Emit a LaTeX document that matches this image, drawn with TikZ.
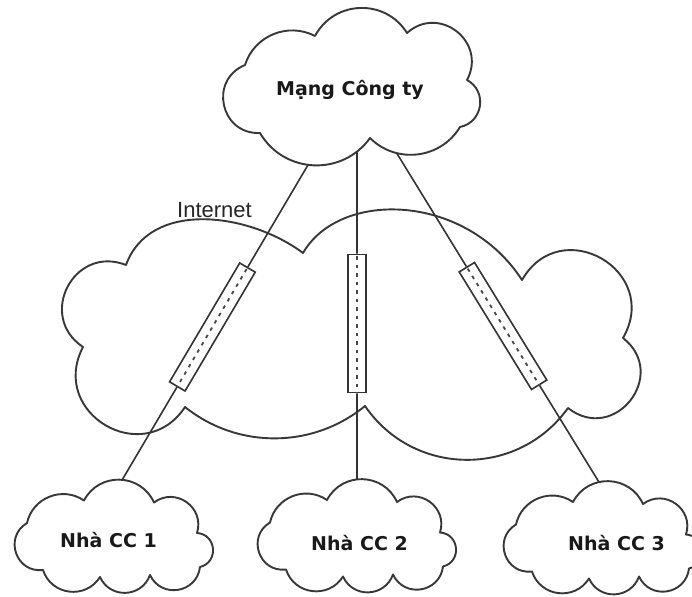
\documentclass[tikz,border=0pt]{standalone}
\usepackage{fontspec}
\setmainfont{DejaVu Sans}
\newfontfamily\labelfont{DejaVu Sans}
\newfontfamily\netfont{Liberation Sans}
\usetikzlibrary{calc,intersections}

% a round puff of a cloud: a circular arc that leaves the chord at #1 degrees
\tikzset{
  puff/.code={%
    \pgfmathsetmacro\pufflen{1.7029*tan(#1/2)/sin(#1)}%
    \edef\puffopts{bend left=#1,looseness=\pufflen}%
    \expandafter\tikzset\expandafter{\puffopts}},
  outline/.style={draw=black!78, line width=1.9pt, line join=round},
  link/.style={draw=black!80, line width=1.6pt},
  tunnel/.style={draw=black!80, line width=1.6pt, rectangle, fill=white,
    minimum width=138pt, minimum height=18pt, inner sep=0pt},
  vpn/.style={draw=black!72, line width=1.8pt, dash pattern=on 3.5pt off 5pt, dash phase=-2.5pt},
  cloudtext/.style={font=\labelfont\bfseries\fontsize{19}{22}\selectfont,
    text=black!90, inner sep=0pt},
  nettext/.style={font=\netfont\fontsize{22}{26}\selectfont, text=black!85, inner sep=0pt},
}

% outline of a small branch-office cloud, centred on the origin
\def\homeoutline{(-30,36) to[puff=64] (40,34) to[puff=72] (83,3.5)
  to[puff=81] (86,-30.5) to[puff=74] (36,-38.5) to[puff=68] (-14,-40.5)
  to[puff=65] (-71,-33.5) to[puff=78] (-87,13.5) to[puff=56] (-30,36) -- cycle}

\begin{document}
\begin{tikzpicture}[x=1pt,y=1pt]
  \useasboundingbox (0,0) rectangle (692,-596);
  \fill[white] (0,0) rectangle (692,-596);
  \clip (0,0) rectangle (692,-596);

  % corporate network
  \draw[outline, name path=topcloud] (245,-65) to[puff=50] (315,-36)
    to[puff=60] (407,-33) to[puff=80] (467,-80) to[puff=70] (460,-127)
    to[puff=52] (370,-138) to[puff=57] (260,-133) to[puff=80] (245,-65) -- cycle;
  \node[cloudtext, anchor=base] (corp) at (350,-96) {Mạng Công ty};

  % the Internet
  \draw[outline] (126,-265) .. controls (149.5,-200) and (248,-212) .. (303,-253)
    .. controls (339.7,-189.5) and (465.4,-192.8) .. (522,-280)
    to[puff=90] (623,-338) to[puff=90] (568,-408) to[puff=55] (365,-406)
    to[puff=39] (185,-407) to[puff=87] (83,-347) to[puff=84] (126,-265) -- cycle;
  \node[nettext, anchor=base west] (inet) at (177,-217) {Internet};

  % branch offices
  \draw[outline, shift={(114,-536.5)}, name path=home1] \homeoutline;
  \draw[outline, shift={(357,-536)}, name path=home2] \homeoutline;
  \draw[outline, shift={(603,-538)}, name path=home3] \homeoutline;
  \node[cloudtext, anchor=base] (h1) at (108.5,-547) {Nhà CC 1};
  \node[cloudtext, anchor=base] (h2) at (359.5,-550) {Nhà CC 2};
  \node[cloudtext, anchor=base] (h3) at (616.5,-550) {Nhà CC 3};

  % where each link meets the clouds
  \path[name path=ray1] (334.5,-120) -- (98.5,-520);
  \path[name path=ray2] (357,-120) -- (357,-520);
  \path[name path=ray3] (376.3,-120) -- (622.3,-520);
  \path[name intersections={of=topcloud and ray1, by=a1}];
  \path[name intersections={of=topcloud and ray2, by=a2}];
  \path[name intersections={of=topcloud and ray3, by=a3}];
  \path[name intersections={of=home1 and ray1, by=b1}];
  \path[name intersections={of=home2 and ray2, by=b2}];
  \path[name intersections={of=home3 and ray3, by=b3}];

  % VPN tunnels through the Internet
  \node[tunnel, rotate=239.46] (t1) at (212.4,-327) {};
  \node[tunnel, rotate=-90] (t2) at (357,-323.5) {};
  \node[tunnel, rotate=-58.4] (t3) at (503,-326) {};
  \foreach \t in {t1,t2,t3} \draw[vpn] (\t.west) -- (\t.east);

  % links
  \draw[link] (a1) -- (t1.west);
  \draw[link] (t1.east) -- (b1);
  \draw[link] (a2) -- (t2.west);
  \draw[link] (t2.east) -- (b2);
  \draw[link] (a3) -- (t3.west);
  \draw[link] (t3.east) -- (b3);
\end{tikzpicture}
\end{document}
